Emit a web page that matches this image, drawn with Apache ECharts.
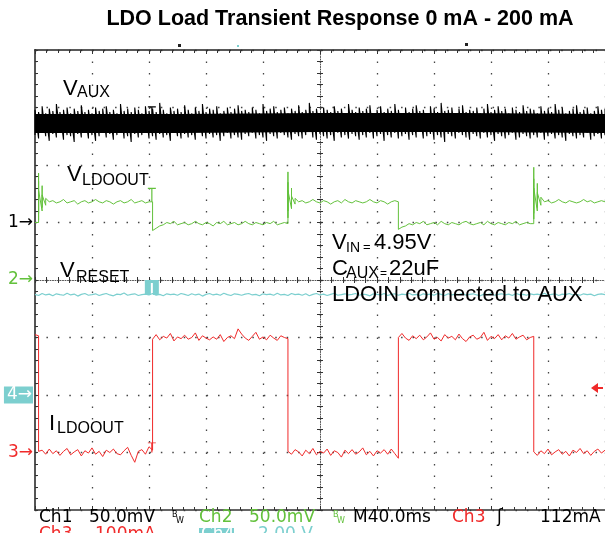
<!DOCTYPE html>
<html>
<head>
<meta charset="utf-8">
<script src="https://cdn.jsdelivr.net/npm/echarts@6/dist/echarts.min.js"></script>
<style>
  html, body { margin: 0; padding: 0; background: #fff; }
  #scope { width: 605px; height: 533px; }
</style>
</head>
<body>
<div id="scope"></div>
<script>
// screen: 10 div x 40 ms, centred on 0 ms; traces sampled every 2.5 ms
const SAMPLE_MS = 2.5
const START_MS = -200
const TRIG_MS = -118 // trigger point (Ch3 rising edge, 112 mA)
const TRIG_LEVEL = 112

// Ch1 V_AUX (mV, 50 mV/div) - per-sample min / max of the noise band
const vauxLow = [
  76, 73, 78, 75, 71, 77, 74, 79, 72, 76, 75, 70, 77, 74, 78, 73, 76, 71, 75, 78,
  74, 77, 72, 76, 79, 73, 75, 70, 77, 74, 76, 78, 73, 75, 72, 77, 74, 76, 71, 78,
  75, 73, 77, 74, 76, 72, 79, 75, 73, 77, 74, 76, 71, 75, 78, 73, 76, 74, 72, 77,
  75, 78, 73, 76, 74, 71, 77, 75, 73, 78, 76, 74, 72, 77, 75, 73, 76, 79, 74, 72,
  77, 75, 73, 76, 71, 78, 74, 76, 73, 77, 75, 72, 76, 74, 78, 73, 75, 77, 71, 76,
  74, 78, 73, 75, 77, 72, 76, 74, 79, 73, 75, 77, 72, 76, 74, 70, 77, 75, 73, 78,
  76, 74, 72, 77, 75, 73, 78, 74, 76, 71, 77, 75, 73, 76, 78, 72, 74, 77, 75, 73,
  76, 74, 78, 72, 75, 77, 73, 76, 74, 71, 77, 75, 73, 76, 74, 78, 72, 75, 77, 73,
  76
]
const vauxHigh = [
  98, 96, 101, 95, 99, 97, 103, 96, 98, 100, 95, 99, 97, 102, 96, 98, 95, 100, 97, 99,
  101, 96, 98, 95, 103, 97, 99, 96, 100, 98, 95, 101, 97, 99, 96, 104, 98, 95, 100, 97,
  99, 96, 102, 98, 95, 100, 97, 103, 96, 99, 98, 101, 95, 97, 100, 96, 99, 102, 97, 98,
  96, 100, 98, 95, 103, 97, 99, 101, 96, 98, 100, 95, 99, 97, 102, 96, 98, 104, 97, 99,
  95, 100, 98, 96, 101, 97, 99, 95, 103, 98, 96, 100, 97, 99, 102, 95, 98, 101, 96, 99,
  97, 103, 98, 95, 100, 96, 99, 102, 97, 98, 95, 101, 99, 96, 104, 97, 98, 100, 95, 99,
  102, 96, 98, 97, 100, 95, 99, 103, 96, 98, 101, 97, 99, 95, 100, 98, 96, 102, 97, 99,
  98, 95, 101, 97, 99, 96, 103, 98, 100, 95, 97, 99, 102, 96, 98, 100, 95, 97, 101, 98,
  99
]
// dense core of the V_AUX band, every 100 ms
const vauxCore = [86, 86, 87, 87, 86]

// Ch2 V_LDOOUT (mV, 50 mV/div); a list = vertical stroke at that sample
const vldoout = [
  50, [50, 93, 52, 86, 58, 78], [60, 82, 63, 74], [65, 71],
  68, 69, 67, 68, 70, 67, 68, 69, 66, 68, 69, 67, 68, 70, 68, 67, 69, 68, 66, 68,
  69, 67, 68, 70, 67, 68, 69, 67, 68,
  [68, 43], 45, 47,
  48, 50, 49, 51, 48, 49, 50, 48, 49, 51, 49, 48, 50, 49, 47, 50, 49, 51, 48, 49,
  50, 48, 49, 51, 49, 48, 50, 49, 48, 50, 49, 51, 48, 49, 50,
  [49, 94, 54, 85, 60, 78], [62, 80, 65, 73], [66, 71],
  68, 69, 67, 68, 70, 68, 67, 69, 68, 66, 68, 69, 67, 70, 68, 67, 69, 68, 67, 68,
  70, 68, 67, 69, 68, 66, 68, 69,
  [68, 44], 46, 47,
  49, 48, 50, 49, 51, 48, 49, 50, 48, 51, 49, 48, 50, 49, 48, 50, 51, 49, 48, 49,
  50, 48, 51, 49, 48, 50, 49, 48, 50, 49, 51, 48, 49, 50, 49,
  [49, 98, 53, 88, 58, 80], [60, 84, 63, 76], [65, 72],
  68, 69, 67, 68, 70, 68, 67, 69, 68, 67, 68, 70, 68, 69, 67, 68, 69, 68
]

// Ch4 V_RESET (V, 2 V/div)
const vreset = [
  3.50, 3.46, 3.53, 3.48, 3.51, 3.45, 3.52, 3.49, 3.47, 3.54,
  3.48, 3.51, 3.44, 3.50, 3.53, 3.47, 3.49, 3.52, 3.46, 3.50,
  3.53, 3.48, 3.45, 3.51, 3.49, 3.55, 3.47, 3.50, 3.52, 3.46,
  3.49, 3.51, 3.48, 3.53, 3.47, 3.50, 3.45, 3.52, 3.49, 3.51,
  3.47, 3.53, 3.50, 3.46, 3.52, 3.48, 3.51, 3.44, 3.50, 3.53,
  3.48, 3.51, 3.47, 3.54, 3.49, 3.46, 3.52, 3.50, 3.47, 3.51,
  3.53, 3.48, 3.50, 3.45, 3.52, 3.49, 3.51, 3.47, 3.54, 3.48,
  3.50, 3.46, 3.53, 3.49, 3.51, 3.47, 3.52, 3.45, 3.50, 3.53,
  3.48, 3.51, 3.46, 3.50, 3.54, 3.47, 3.49, 3.52, 3.48, 3.50,
  3.53, 3.47, 3.51, 3.49, 3.45, 3.52, 3.50, 3.48, 3.53, 3.46,
  3.50, 3.52, 3.47, 3.51, 3.49, 3.54, 3.48, 3.50, 3.46, 3.52,
  3.49, 3.51, 3.47, 3.53, 3.50, 3.46, 3.52, 3.48, 3.51, 3.49,
  3.54, 3.47, 3.50, 3.52, 3.48, 3.45, 3.51, 3.49, 3.53, 3.47,
  3.50, 3.52, 3.48, 3.51, 3.46, 3.53, 3.49, 3.50, 3.47, 3.52,
  3.49, 3.51, 3.48, 3.54, 3.47, 3.50, 3.52, 3.46, 3.51, 3.49,
  3.53, 3.48, 3.50, 3.47, 3.52, 3.49, 3.51, 3.45, 3.50, 3.52,
  3.49
]

// Ch3 I_LDOOUT (mA, 100 mA/div)
const ildoout = [
  205, [203, 2],
  4, -3, 6, -2, 3, -5, 2, 7, -4, 1, 5, -6, 3, -1, 8, -3, 2, -7, 4, 0,
  6, -2, -4, 3, 9, -5, -17, 2, 5, -3, 10,
  [4, 197],
  205, 196, 202, 199, 207, 194, 201, 198, 204, 197, 200, 208, 195, 203, 199, 196, 201, 197, 205, 193,
  200, 203, 198, 215, 206, 199, 195, 202, 209, 197, 201, 196, 204, 199, 195, 203, 200,
  [198, 2],
  -3, 5, 1, -6, 4, -2, 7, -4, 2, -1, 6, -5, 3, 0, -8, 4, -2, 5, -3, 1,
  8, -4, 2, -6, 3, -1, 5, -3, 6, -2,
  [-10, 200],
  207, 199, 195, 203, 198, 204, 196, 201, 208, 197, 200, 194, 205, 199, 202, 196, 206, 198, 193, 201,
  204, 197, 200, 209, 195, 202, 198, 205, 196, 203, 199, 207, 197, 201, 204, 196, 200,
  [202, 1],
  -5, 3, -2, 6, -4, 1, 5, -3, 2, -6, 4, 0, 7, -2, 3, -5, 2, 6, -1, 4
]

const GREEN = '#63c13c'
const CYAN = '#7ccfcf'
const RED = '#f02a2a'

function toPoints (samples, stepMs) {
  let pts = []
  samples.forEach((s, i) => {
    let t = START_MS + i * stepMs
    ;[].concat(s).forEach(v => pts.push([t, v]))
  })
  return pts
}

let vauxSamples = vauxLow.map((lo, i) => [lo, vauxHigh[i]])

let tShape = 'path://M0,0H8V1.2H4.6V14H3.4V1.2H0Z'
let boxShape = 'path://M0,0H14V15H8V3H6V15H0Z'
let arrowShape = 'path://M0,5L7,0V4H12V6H7V10Z'

function trigMark (value, color, shape, size, dy) {
  return {
    silent: true,
    label: { show: false },
    data: [{ coord: [TRIG_MS, value], symbol: shape, symbolSize: size, symbolOffset: [0, dy], itemStyle: { color: color } }]
  }
}

let tickStyle = { color: '#333', width: 1 }
let baseX = {
  type: 'value', min: -200, max: 200, interval: 40,
  axisLabel: { show: false }, splitLine: { show: false }
}
let baseY = {
  type: 'value', min: -4, max: 4, interval: 1,
  axisLabel: { show: false }, splitLine: { show: false }
}
function chanAxis (min, max, interval, text, rich) {
  return {
    type: 'value', min: min, max: max, interval: interval, position: 'left',
    axisLine: { show: false, onZero: false }, axisTick: { show: false }, splitLine: { show: false },
    axisLabel: {
      show: true, margin: 2, fontFamily: 'DejaVu Sans', fontSize: 17,
      formatter: v => v === 0 ? text : '',
      rich: rich
    }
  }
}

let chart = echarts.init(document.getElementById('scope'))
let option = {
  animation: false,
  backgroundColor: '#fff',
  grid: { left: 35, top: 50, width: 572, height: 460 },
  xAxis: [
    { ...baseX, position: 'bottom',
      axisLine: { onZero: false, lineStyle: { color: '#333', width: 1.5 } },
      axisTick: { inside: true, length: 4, lineStyle: tickStyle },
      minorTick: { show: true, splitNumber: 5, length: 3, lineStyle: tickStyle },
      splitLine: { show: true, lineStyle: { color: '#444', width: 1.3, type: [1.5, 10] } } },
    { ...baseX, position: 'bottom',
      axisLine: { onZero: true, onZeroAxisIndex: 0, lineStyle: { color: '#555', width: 1, type: [1, 1.5] } },
      axisTick: { inside: true, length: 3, lineStyle: tickStyle },
      minorTick: { show: true, splitNumber: 5, length: 3, lineStyle: tickStyle } },
    { ...baseX, position: 'bottom',
      axisLine: { show: false, onZero: true, onZeroAxisIndex: 0 },
      axisTick: { inside: false, length: 3, lineStyle: tickStyle },
      minorTick: { show: true, splitNumber: 5, length: 3, lineStyle: tickStyle } },
    { ...baseX, position: 'top',
      axisLine: { onZero: false, lineStyle: { color: '#222', width: 1.5 } },
      axisTick: { inside: true, length: 4, lineStyle: tickStyle },
      minorTick: { show: true, splitNumber: 5, length: 3, lineStyle: tickStyle } }
  ],
  yAxis: [
    { ...baseY, position: 'left',
      axisLine: { onZero: false, lineStyle: { color: '#555', width: 2 } },
      axisTick: { inside: true, length: 3, lineStyle: tickStyle },
      minorTick: { show: true, splitNumber: 5, length: 3, lineStyle: tickStyle },
      splitLine: { show: true, lineStyle: { color: '#444', width: 1.3, type: [1.5, 9.94] } } },
    { ...baseY, position: 'left',
      axisLine: { onZero: true, onZeroAxisIndex: 0, lineStyle: { color: '#555', width: 1, type: [1, 1.5] } },
      axisTick: { inside: true, length: 3, lineStyle: tickStyle },
      minorTick: { show: true, splitNumber: 5, length: 3, lineStyle: tickStyle } },
    { ...baseY, position: 'left',
      axisLine: { show: false, onZero: true, onZeroAxisIndex: 0 },
      axisTick: { inside: false, length: 3, lineStyle: tickStyle },
      minorTick: { show: true, splitNumber: 5, length: 3, lineStyle: tickStyle } },
    chanAxis(-250, 150, 50, '{k|1→}', { k: { color: '#000', fontFamily: 'DejaVu Sans', fontSize: 17 } }),
    chanAxis(-200, 200, 50, '{g|2→}', { g: { color: GREEN, fontFamily: 'DejaVu Sans', fontSize: 17 } }),
    chanAxis(-4, 12, 2, '{c|4→}', { c: { color: '#fff', backgroundColor: CYAN, fontFamily: 'DejaVu Sans', fontSize: 17, padding: [0, 1, 0, 3] } }),
    chanAxis(-100, 700, 100, '{r|3→}', { r: { color: RED, fontFamily: 'DejaVu Sans', fontSize: 17 } })
  ],
  series: [
    { name: 'V_AUX core', type: 'line', yAxisIndex: 3, data: toPoints(vauxCore, 100),
      showSymbol: false, silent: true, lineStyle: { color: '#000', width: 19 } },
    { name: 'V_AUX', type: 'line', yAxisIndex: 3, data: toPoints(vauxSamples, SAMPLE_MS),
      showSymbol: false, silent: true, lineStyle: { color: '#000', width: 1.1 },
      markPoint: trigMark(88, '#000', tShape, [8, 14], -8) },
    { name: 'V_LDOOUT', type: 'line', yAxisIndex: 4, data: toPoints(vldoout, SAMPLE_MS),
      showSymbol: false, silent: true, lineStyle: { color: GREEN, width: 1 },
      markPoint: trigMark(68, GREEN, tShape, [8, 14], -7) },
    { name: 'V_RESET', type: 'line', yAxisIndex: 5, data: toPoints(vreset, SAMPLE_MS),
      showSymbol: false, silent: true, lineStyle: { color: CYAN, width: 1.2 },
      markPoint: trigMark(3.5, CYAN, boxShape, [14, 15], -7) },
    { name: 'I_LDOOUT', type: 'line', yAxisIndex: 6, data: toPoints(ildoout, SAMPLE_MS),
      showSymbol: false, silent: true, lineStyle: { color: RED, width: 1 },
      markPoint: {
        silent: true, label: { show: false },
        data: [
          { coord: [TRIG_MS, 0], symbol: tShape, symbolSize: [8, 10], symbolOffset: [0, -5], itemStyle: { color: RED } },
          { coord: [200, TRIG_LEVEL], symbol: arrowShape, symbolSize: [12, 10], symbolOffset: [-8, 0], itemStyle: { color: RED } }
        ]
      } }
  ],
  graphic: []
}

// annotation texts (x = left edge, y = cap centre)
function txt (x, y, text, size, color, extra) {
  option.graphic.push({
    type: 'text', x: x, y: y, z: 100, silent: true,
    style: Object.assign({
      text: text, fill: color || '#000',
      font: size + 'px "Liberation Sans", Arial, sans-serif',
      textAlign: 'left', textVerticalAlign: 'middle'
    }, extra || {})
  })
}
function stat (x, y, text, color, size) {
  txt(x, y, text, size || 17, color, { font: (size || 17) + 'px "DejaVu Sans", sans-serif' })
}

txt(340, 19, 'LDO Load Transient Response 0 mA - 200 mA', 21.5, '#000',
  { font: 'bold 21.5px "Liberation Sans", Arial, sans-serif', textAlign: 'center' })

txt(63, 89, 'V', 22); txt(77, 93, 'AUX', 16)
txt(67, 175, 'V', 22); txt(82, 181, 'LDOOUT', 16)
txt(60, 271, 'V', 22); txt(76, 278, 'RESET', 16)
txt(49, 424, 'I', 22); txt(57, 429, 'LDOOUT', 16)

txt(332, 243, 'V', 22); txt(346, 248, 'IN', 14); txt(363, 247, '=', 13); txt(374, 243, '4.95V', 22)
txt(332, 269, 'C', 22); txt(346, 274, 'AUX', 16); txt(380, 274, '=', 12); txt(389, 269, '22uF', 22)
txt(332, 295, 'LDOIN connected to AUX', 22)

// status line
stat(39, 518, 'Ch1'); stat(89, 518, '50.0mV')
stat(172, 515, 'B', '#000', 8); stat(176, 521, 'W', '#000', 8)
stat(199, 518, 'Ch2', GREEN); stat(249, 518, '50.0mV', GREEN)
stat(333, 515, 'B', GREEN, 8); stat(337, 521, 'W', GREEN, 8)
stat(353, 518, 'M40.0ms'); stat(452, 518, 'Ch3', RED); stat(497, 518, 'ʃ')
stat(540, 518, '112mA')
stat(39, 535, 'Ch3', RED); stat(95, 535, '100mA', RED)
option.graphic.push({ type: 'rect', x: 199, y: 528, z: 100, shape: { width: 35, height: 14 }, style: { fill: CYAN } })
stat(201, 535, 'Ch4', '#fff'); stat(258, 535, '2.00 V', CYAN)

// record-window marks above the graticule
option.graphic.push({ type: 'rect', x: 178, y: 44, shape: { width: 3, height: 3 }, style: { fill: '#222' } })
option.graphic.push({ type: 'rect', x: 465, y: 43, shape: { width: 3, height: 3 }, style: { fill: '#222' } })
option.graphic.push({ type: 'rect', x: 237, y: 45, shape: { width: 2, height: 2 }, style: { fill: CYAN } })

chart.setOption(option)
</script>
</body>
</html>
